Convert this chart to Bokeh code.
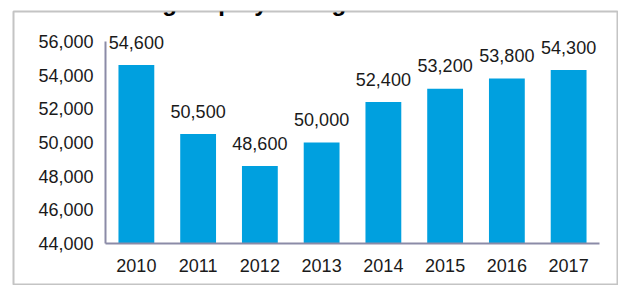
from bokeh.plotting import figure
from bokeh.models import Label, Range1d, FixedTicker, CustomJSTickFormatter, LinearAxis
from bokeh.core.properties import value
from bokeh.embed import file_html
from bokeh.resources import INLINE

title_text = "Manufacturing employment growth - Hamilton"
years = ["2010", "2011", "2012", "2013", "2014", "2015", "2016", "2017"]
employment = [54600, 50500, 48600, 50000, 52400, 53200, 53800, 54300]
labels = ["54,600", "50,500", "48,600", "50,000", "52,400", "53,200", "53,800", "54,300"]
y_ticks = [44000, 46000, 48000, 50000, 52000, 54000, 56000]
y_min, y_max = 44000, 56000

FONT = "Liberation Sans"
BAR = "#00a0df"
AXIS = "#8b8ba7"
TXT = "#1a1a1a"
GREY = "#c4c4c4"

W, H = 618, 285
# frame covers the grey-bordered box; the axes are drawn inside it
FRAME_L, FRAME_T = 13, 11
AX_L, AX_R, AX_T, AX_B = 105, 599, 41, 243   # plot area in canvas pixels

pos = list(range(len(years)))
slot = (AX_R - AX_L) / len(years)
x_start = -0.5 - (AX_L - FRAME_L) / slot
x_end = len(years) - 0.5 + (W - AX_R) / slot
ppu = (AX_B - AX_T) / (y_max - y_min)
y_start = y_min - (H - AX_B) / ppu
y_end = y_min + (AX_B - FRAME_T) / ppu

p = figure(width=W, height=H, output_backend="svg", toolbar_location=None,
           x_range=Range1d(x_start, x_end), y_range=Range1d(y_start, y_end),
           x_axis_location=None, y_axis_location=None,
           min_border_left=FRAME_L, min_border_right=0,
           min_border_top=FRAME_T, min_border_bottom=0, margin=0)
p.outline_line_color = GREY
p.outline_line_width = 2
p.grid.grid_line_color = None
p.background_fill_color = "white"
p.border_fill_color = "white"

p.vbar(x=pos, top=employment, bottom=y_min, width=0.58, color=BAR, line_color=None)
p.text(x=pos, y=employment, text=labels, text_font=value(FONT), text_font_size="18px",
       text_color=TXT, text_align="center", text_baseline="alphabetic", y_offset=-23)

yax = LinearAxis(fixed_location=-0.5, bounds=(y_min, y_max),
                 ticker=FixedTicker(ticks=y_ticks),
                 formatter=CustomJSTickFormatter(code="return tick.toLocaleString('en-US');"))
xax = LinearAxis(fixed_location=y_min, bounds=(-0.5, len(years) - 0.5),
                 ticker=FixedTicker(ticks=pos),
                 major_label_overrides={i: y for i, y in zip(pos, years)})
for ax in (xax, yax):
    ax.axis_line_color = AXIS
    ax.axis_line_width = 2
    ax.major_tick_line_color = None
    ax.minor_tick_line_color = None
    ax.major_tick_out = 0
    ax.major_tick_in = 0
    ax.major_label_text_font = FONT
    ax.major_label_text_font_size = "18px"
    ax.major_label_text_color = TXT
yax.major_label_standoff = 12
xax.major_label_standoff = 15
p.add_layout(yax, "left")
p.add_layout(xax, "below")

# title, mostly above the top of the picture; screen units from the frame's bottom-left
title = Label(x=10 - FRAME_L + 1, y=H - 2, x_units="screen", y_units="screen", text=title_text,
              text_font=FONT, text_font_size="24px", text_font_style="bold",
              text_color="black", text_baseline="alphabetic", level="overlay")
p.add_layout(title)

open("out.html", "w").write(file_html(p, INLINE))
